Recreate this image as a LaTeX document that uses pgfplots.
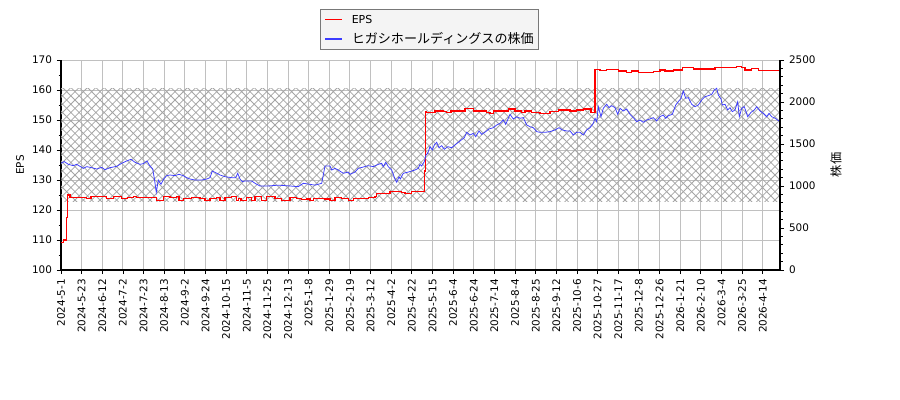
\documentclass[border=0pt]{standalone}
\usepackage{fontspec}
\setmainfont{DejaVu Sans}
\newfontfamily\jp{Noto Sans CJK JP}
\usepackage{pgfplots}
\pgfplotsset{compat=1.18}
\usetikzlibrary{patterns}
\pgfdeclarepatternformonly{xhatch}{\pgfqpoint{-1pt}{-1pt}}{\pgfqpoint{7pt}{7pt}}{\pgfqpoint{6pt}{6pt}}{%
  \pgfsetlinewidth{0.55pt}%
  \pgfpathmoveto{\pgfqpoint{0pt}{0pt}}\pgfpathlineto{\pgfqpoint{6pt}{6pt}}%
  \pgfpathmoveto{\pgfqpoint{0pt}{6pt}}\pgfpathlineto{\pgfqpoint{6pt}{0pt}}%
  \pgfusepath{stroke}}
\definecolor{hatchgray}{RGB}{165,165,165}
\definecolor{gridgray}{RGB}{192,192,192}
\definecolor{stockblue}{RGB}{60,60,255}
\definecolor{epsred}{RGB}{255,0,0}
\definecolor{legfill}{RGB}{244,244,244}
\definecolor{legdraw}{RGB}{120,120,120}
\pgfplotsset{
  base/.style={
    at={(43.92pt,93.6pt)}, anchor=south west, scale only axis,
    width=517.68pt, height=151.2pt,
    xmin=61, xmax=780,
    tick align=outside,
    major tick length=3pt, minor tick length=1.8pt,
    every tick/.style={black, line width=0.6pt},
    tick label style={font=\fontsize{7.5}{9}\selectfont},
    /pgf/number format/assume math mode=true,
    /pgf/number format/1000 sep={},
    axis line style={black, line width=0.75pt},
  }
}
\begin{document}
\begin{tikzpicture}[x=1pt,y=1pt]
\path[use as bounding box] (0,0) rectangle (648,288);
\begin{axis}[base,
  ymin=100, ymax=170,
  axis x line*=bottom, axis y line*=left,
  ytick={100,110,...,170}, minor y tick num=1,
  xtick={61,81.64,102.28,122.92,143.56,164.2,184.84,205.48,226.12,246.76,267.4,288.04,308.68,329.32,349.96,370.6,391.24,411.88,432.52,453.16,473.8,494.44,515.08,535.72,556.36,577,597.64,618.28,638.92,659.56,680.2,700.84,721.48,742.12,762.76},
  xticklabels={2024-5-1,2024-5-23,2024-6-12,2024-7-2,2024-7-23,2024-8-13,2024-9-2,2024-9-24,2024-10-15,2024-11-5,2024-11-25,2024-12-13,2025-1-8,2025-1-29,2025-2-19,2025-3-12,2025-4-2,2025-4-22,2025-5-15,2025-6-4,2025-6-24,2025-7-14,2025-8-4,2025-8-25,2025-9-12,2025-10-6,2025-10-27,2025-11-17,2025-12-8,2025-12-26,2026-1-21,2026-2-10,2026-3-4,2026-3-25,2026-4-14},
  xticklabel style={rotate=90, anchor=east},
  grid=major, major grid style={gridgray, line width=0.7pt},
  ylabel={EPS}, ylabel style={at={(axis description cs:-0.057,0.5)}, anchor=center, font=\fontsize{7.5}{9}\selectfont},
]
\addplot[draw=none, pattern=xhatch, pattern color=hatchgray, forget plot] coordinates {(61,122.8) (780,122.8) (780,160.4) (61,160.4)} -- cycle;
\addplot[epsred, line width=0.95pt, const plot] coordinates {
(61,109.2) (63.3,110) (66.7,117.4) (67.7,125.0) (70,124.2) (86.7,123.9) (91,124.4) (106.7,123.9) (113.3,124.4) (121.7,123.9) (127.7,124.1) (133.3,124.4) (136.7,124.1) (141.7,124.2) (150,124.1) (156.7,123.2) (163.3,124.4) (170,124.1) (176.7,124.4) (179,123.2) (183.3,123.9) (191.7,124.2) (200,123.9) (205,123.2) (210,123.9) (216.7,124.2) (220,123.2) (225,124.1) (231.7,124.4) (236.7,123.2) (238.3,123.9) (241,123.2)
(246.7,124.1) (251.7,123.2) (255,124.4) (261.7,123.2) (266.7,124.4) (275,123.9) (281.7,123.2) (290,124.2) (296.7,123.9) (301.7,123.6) (306.7,123.7) (310,123.2) (313.3,123.9) (325,123.7) (330,123.2) (335,124.1) (341.7,123.9) (348.3,123.2) (353.3,123.9) (368.3,124.2) (375,124.4) (376.7,125.6) (390,126.1) (401.7,125.9) (405,125.6) (411.7,126.1) (424.3,133.0) (425.5,152.8) (426.7,152.6) (435,153.0) (443.3,152.8) (446.7,152.6) (451,153.0) (465,153.9) (473.3,153.0) (486.7,152.6) (490,152.2) (493.3,153.0) (508.3,153.7) (515,153.0) (521.7,152.6) (525,153.0) (531.7,152.6) (540,152.2) (550,152.8) (558.3,153.3) (570,153.0) (576.7,153.3) (583.3,153.7) (591,152.6) (595,166.8) (600,166.4) (606.7,166.9) (618.3,166.3) (626.7,165.9) (631.7,166.3) (638.3,165.8) (653.3,166.1) (660,166.7) (665,166.3) (673.3,166.7) (682.3,167.4) (693.3,167.0) (715,167.6) (736.7,167.9) (741.7,167.4) (745,166.7) (751.7,167.2) (758.3,166.6) (780,166.6)};
\end{axis}
\begin{axis}[base,
  ymin=0, ymax=2500,
  axis x line=none, axis y line*=right,
  ytick={0,500,...,2500}, minor y tick num=4,
  ylabel={\jp 株価}, ylabel style={at={(axis description cs:1.078,0.5)}, anchor=center, font=\fontsize{8.8}{10}\selectfont},
]
\addplot[stockblue, line width=0.55pt] coordinates {
(61,1270) (64.3,1290) (68.3,1258) (73.3,1242) (76.7,1258) (80,1234) (83.3,1210) (86.7,1230) (91.7,1218) (96.7,1202) (101.7,1222) (105,1194) (110,1218) (116.7,1234) (121.7,1270) (126.7,1298) (131,1318) (135,1282) (140,1258) (143.3,1266) (147,1298) (149.3,1250) (152.7,1202) (154.3,1092) (156.3,925) (158.3,1071) (161,1020) (163.7,1083) (166.7,1123) (170,1131) (175,1123) (179,1139) (183.3,1123) (186.7,1099) (190,1083) (195,1071) (201.7,1071) (206.7,1083) (210,1099) (212.3,1178) (215,1163) (220,1131) (225,1111) (231.7,1099) (235.7,1099) (237.7,1151) (240,1083) (242.3,1052) (245,1060) (251.7,1060) (255,1032) (260,1000) (268,1000) (278.3,1010) (290,1000) (298.3,992) (303.3,1032) (310,1020) (315,1010) (321.7,1032) (325,1238) (330,1238) (331.7,1190) (335,1210) (338.3,1190) (343.3,1151) (348.3,1166) (350,1139) (355,1166) (358.3,1210) (368.3,1242) (373.3,1230) (378.3,1258) (381.7,1270) (383.3,1230) (385.7,1282) (388.3,1230) (391.7,1190) (395,1083) (396.7,1044) (399,1111) (400.3,1083) (403.3,1151) (408.3,1166) (415,1190) (418.3,1210) (420,1258) (421.7,1238) (424.3,1290) (426,1369) (427.7,1389) (430,1468) (432.3,1429) (434.3,1488) (436.7,1520) (439,1456) (441.7,1480) (444.3,1437) (447.7,1468) (451.7,1456) (455.7,1496) (460,1536) (464.3,1575) (466.7,1639) (470,1607) (473.3,1627) (475.7,1587) (479,1655) (481.7,1615) (485.7,1647) (489,1679) (493.3,1694) (496.7,1726) (500,1746) (503.3,1786) (505.7,1734) (510,1853) (513.3,1798) (516.7,1825) (520,1806) (523.3,1814) (526.7,1726) (530,1706) (533.3,1694) (536.7,1647) (540,1639) (545,1639) (550,1647) (555,1667) (559,1694) (562.3,1667) (566.7,1655) (570,1655) (573.3,1607) (576.7,1639) (580,1639) (583.3,1607) (586.7,1667) (590,1694) (593.3,1746) (595,1806) (596.7,1766) (598.3,1944) (601,1825) (603.3,1925) (606.7,1973) (609,1933) (611.7,1956) (615,1933) (617.7,1853) (620,1925) (623.3,1893) (626.7,1917) (630,1853) (633.3,1814) (636.7,1766) (640,1786) (643.3,1758) (646.7,1786) (650,1798) (653.3,1814) (656.7,1774) (660,1825) (663.3,1845) (665.7,1806) (668.3,1837) (672.3,1853) (675.7,1964) (678.3,2004) (681,2044) (683.3,2131) (685.7,2044) (688.3,2052) (691.7,1973) (695,1944) (698.3,1964) (701.7,2024) (705,2063) (708.3,2075) (711.7,2091) (714.3,2143) (716.7,2163) (718.3,2083) (721,2036) (722.3,1964) (725,1973) (727.7,1905) (730,1933) (732.3,1885) (735,1905) (737.7,2004) (739.3,1825) (741.7,1925) (744.3,1944) (747.7,1825) (751,1877) (754.3,1905) (756.7,1944) (760,1893) (763.3,1865) (766.7,1825) (769,1865) (771.7,1825) (775,1806) (779,1774)};
\end{axis}
\node[draw=legdraw, fill=legfill, line width=0.6pt, anchor=north west, inner xsep=3.6pt, inner ysep=0.5pt] at (230.4,281.5) {%
  \fontsize{7.9}{14}\selectfont
  \begin{tabular}{@{}l@{\hspace{7pt}}l@{}}
  \textcolor{epsred}{\rule[2.4pt]{12pt}{1.3pt}} & EPS\\
  \textcolor{stockblue}{\rule[2.6pt]{12pt}{0.9pt}} & {\jp\fontsize{9.4}{14}\selectfont ヒガシホールディングスの株価}
  \end{tabular}};
\end{tikzpicture}
\end{document}
